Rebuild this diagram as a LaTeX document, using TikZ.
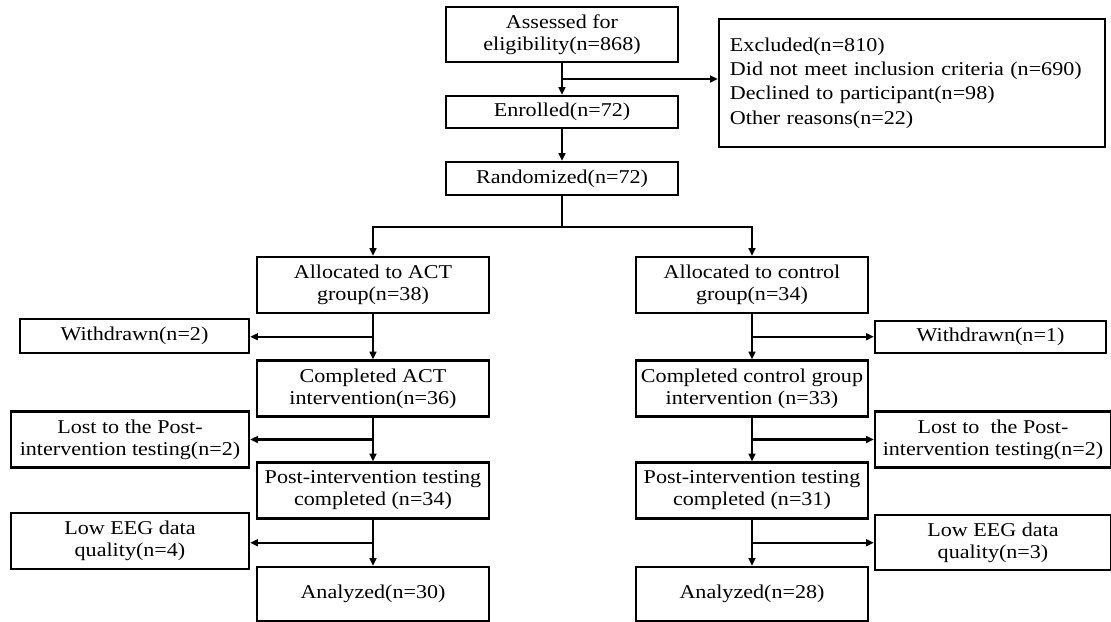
\documentclass[tikz,border=0pt]{standalone}
\usepackage{fontspec}
\setmainfont{Liberation Serif}[FakeStretch=1.13]
\usetikzlibrary{arrows.meta, positioning, calc}

\begin{document}
\begin{tikzpicture}[x=0.025cm, y=-0.025cm,
    box/.style={draw, line width=1.6pt, inner sep=0pt, align=center,
        minimum width=5.8cm, minimum height=1.4cm,
        font=\fontsize{13.9}{15.6}\selectfont},
    side/.style={box, minimum width=5.95cm},
    arr/.style={line width=1.6pt, -{Triangle[length=5.5pt, width=4.8pt]}}]
    \useasboundingbox (0,0) rectangle (1111,621);
    % Enrolment
    \node[box, minimum height=1.375cm] (assess) at (562,34.5) {Assessed for\\eligibility(n=868)};
    \node[box, minimum height=0.8cm] (enrol) at (562,112) {Enrolled(n=72)};
    \node[box, minimum height=0.825cm] (rand) at (562,178.5) {Randomized(n=72)};
    \node[box, align=left, text width=9.1cm, inner xsep=0.275cm, minimum height=3.2cm,
        font=\fontsize{13.9}{17.4}\selectfont] (excl) at (912,83)
        {Excluded(n=810)\\Did not meet inclusion criteria (n=690)\\Declined to participant(n=98)\\Other reasons(n=22)};
    % ACT group
    \node[box] (allocAct) at (373,285) {Allocated to ACT\\group(n=38)};
    \node[box] (complAct) at (373,388.5) {Completed ACT\\intervention(n=36)};
    \node[box] (postAct) at (373,490.5) {Post-intervention testing\\completed (n=34)};
    \node[box, minimum height=1.35cm] (anaAct) at (373,594) {Analyzed(n=30)};
    \node[box, minimum width=5.725cm, minimum height=0.85cm] (wdAct) at (134.5,336) {Withdrawn(n=2)};
    \node[side] (lostAct) at (130,439.5) {Lost to the Post-\\intervention testing(n=2)};
    \node[side] (eegAct) at (130,541) {Low EEG data\\quality(n=4)};
    % Control group
    \node[box] (allocCon) at (752,285) {Allocated to control\\group(n=34)};
    \node[box] (complCon) at (752,388.5) {Completed control group\\intervention (n=33)};
    \node[box] (postCon) at (752,490.5) {Post-intervention testing\\completed (n=31)};
    \node[box, minimum height=1.35cm] (anaCon) at (752,594) {Analyzed(n=28)};
    \node[box, minimum width=5.775cm, minimum height=0.8cm] (wdCon) at (990.5,337) {Withdrawn(n=1)};
    \node[side, minimum width=5.9cm] (lostCon) at (993,439.5) {Lost to~ the Post-\\intervention testing(n=2)};
    \node[side, minimum width=5.9cm, minimum height=1.375cm] (eegCon) at (993,542.5) {Low EEG data\\quality(n=3)};
    % Arrows
    \draw[arr] (assess) -- (enrol);
    \draw[arr] (enrol) -- (rand);
    \coordinate (j0) at ($(assess.south)!0.5!(enrol.north)$);
    \draw[arr] (j0) -- (j0 -| excl.west);
    \coordinate (split) at ($(rand.south)+(0,31)$);
    \draw[line width=1.6pt] (rand) -- (split);
    \draw[arr] (split) -| (allocAct);
    \draw[arr] (split) -| (allocCon);
    \foreach \g/\s in {Act/east, Con/west}{
        \foreach \a/\b/\c in {alloc/compl/wd, compl/post/lost, post/ana/eeg}{
            \draw[arr] (\a\g) -- (\b\g);
            \coordinate (m) at ($(\a\g.south)!0.5!(\b\g.north)$);
            \draw[arr] (m) -- (m -| \c\g.\s);
        }
    }
\end{tikzpicture}
\end{document}
